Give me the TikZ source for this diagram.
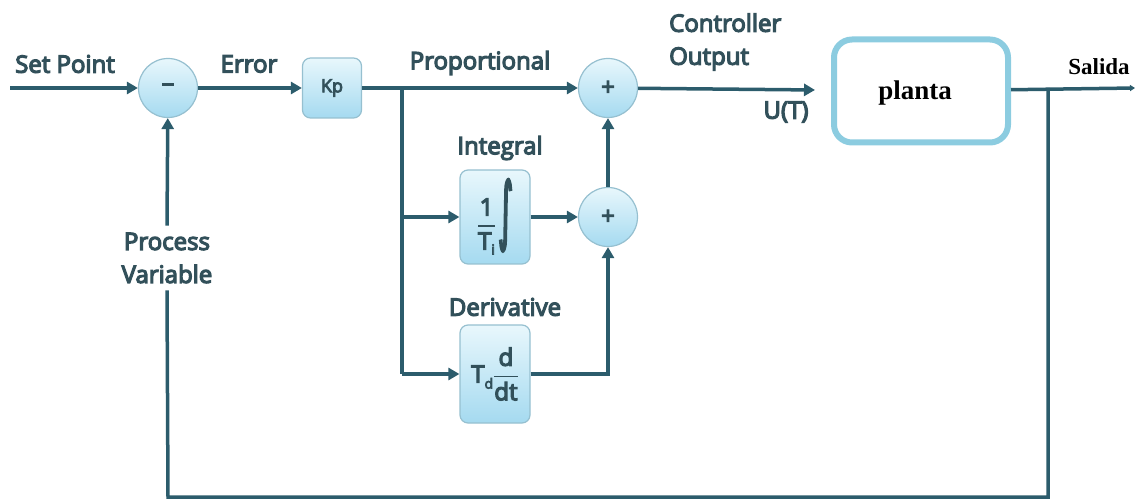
\documentclass[tikz,border=0pt]{standalone}
\usepackage{amsmath}
\usepackage{fontspec}
\setmainfont{Open Sans}
\newfontfamily\semib{Open Sans}[FakeBold=5]
\newfontfamily\intfont{DejaVu Sans}[FakeBold=5]
\newfontfamily\serifb{Liberation Serif}
\usetikzlibrary{arrows.meta}
\definecolor{wire}{RGB}{44,92,108}
\definecolor{ink}{RGB}{50,80,90}
\definecolor{rim}{RGB}{150,192,208}
\definecolor{fillTop}{RGB}{232,247,252}
\definecolor{fillBot}{RGB}{165,218,240}
\definecolor{plantrim}{RGB}{140,204,224}
\newcommand{\blockfrac}[2]{$\genfrac{}{}{1.6pt}{0}{\mbox{#1}}{\mbox{#2}}$}
\tikzset{
  wireline/.style={draw=wire, line width=3.5pt},
  arr/.style={wireline, -{Triangle[length=11pt,width=12pt]}},
  lbl/.style={text=ink, font=\semib\fontsize{24}{33}\selectfont, align=center, inner sep=0pt},
  sumnode/.style={circle, draw=rim, line width=1.2pt, minimum size=59pt, inner sep=0pt,
    top color=fillTop, bottom color=fillBot, text=ink, font=\semib\fontsize{24}{24}\selectfont},
  blockbox/.style={rectangle, rounded corners=8pt, draw=rim, line width=1.2pt,
    top color=fillTop, bottom color=fillBot, text=ink, inner sep=0pt,
    font=\semib\fontsize{24}{26}\selectfont},
  plantbox/.style={rectangle, rounded corners=18pt, draw=plantrim, line width=6pt,
    fill=white, minimum width=174pt, minimum height=103pt},
}
\begin{document}
\begin{tikzpicture}[x=1pt,y=-1pt]
\useasboundingbox (0,0) rectangle (1137,502);

% blocks
\coordinate (in) at (10,88);
\node[sumnode] (s1) at (168,88) {\rule[7pt]{12pt}{3pt}};
\node[blockbox, minimum width=59pt, minimum height=60pt, font=\semib\fontsize{18}{20}\selectfont] (kp) at (332,88) {Kp};
\coordinate (br) at (402,88);
\node[sumnode] (s2) at (608,88) {+};
\node[plantbox] (pl) at (921,91) {};
\node[font=\serifb\bfseries\fontsize{27}{28}\selectfont, inner sep=0pt] (plt) at (915,93) {planta};
\coordinate (out) at (1135,88);
\coordinate (fb) at (1048,88);
\node[blockbox, minimum width=70pt, minimum height=94pt] (ib) at (495,217)
  {\blockfrac{1}{T\raisebox{-5pt}{\fontsize{14}{14}\selectfont i}}\hspace{2pt}\raisebox{-3pt}{\resizebox{15pt}{56pt}{\intfont ∫}}};
\node[sumnode] (s3) at (608,217) {+};
\node[blockbox, minimum width=70pt, minimum height=98pt] (db) at (495,374)
  {T\raisebox{-6pt}{\fontsize{14}{14}\selectfont d}\blockfrac{d}{dt}};
\coordinate (brd) at (402,374);
\coordinate (s3d) at (608,374);
\coordinate (fbb) at (1048,497);
\coordinate (s1b) at (168,497);

% labels
\node[lbl] (spl) at (65,64) {Set Point};
\node[lbl] (errl) at (249,64) {Error};
\node[lbl] (propl) at (480,63) {Proportional};
\node[lbl, align=left, anchor=west] (ctl) at (669,42) {Controller\\Output};
\node[lbl] (utl) at (786,112) {U(T)};
\node[lbl] (intl) at (500,148) {Integral};
\node[lbl] (derl) at (505,307) {Derivative};
\node[lbl, align=center] (pvl) at (167,258) {Process\\Variable};
\node[font=\serifb\bfseries\fontsize{23}{24}\selectfont, inner sep=0pt] (sal) at (1099,67) {Salida};

% forward path
\draw[arr] (in) -- (s1);
\draw[arr] (s1) -- (kp);
\draw[arr] (kp) -- (s2);
\draw[arr, shorten >=16pt] (s2) -- (pl);
\draw[arr, -{Triangle[length=5pt,width=6pt]}] (pl) -- (out);

% integral and derivative branches
\draw[wireline] (br) -- (brd);
\draw[arr] (br |- ib) -- (ib);
\draw[arr] (ib) -- (s3);
\draw[arr] (brd) -- (db);
\draw[arr] (db) -- (s3d) -- (s3);
\draw[arr] (s3) -- (s2);

% feedback
\draw[wireline] (fb) -- (fbb) -- (s1b) -- ([yshift=-7pt]pvl.south);
\draw[arr] ([yshift=7pt]pvl.north) -- (s1);
\end{tikzpicture}
\end{document}
